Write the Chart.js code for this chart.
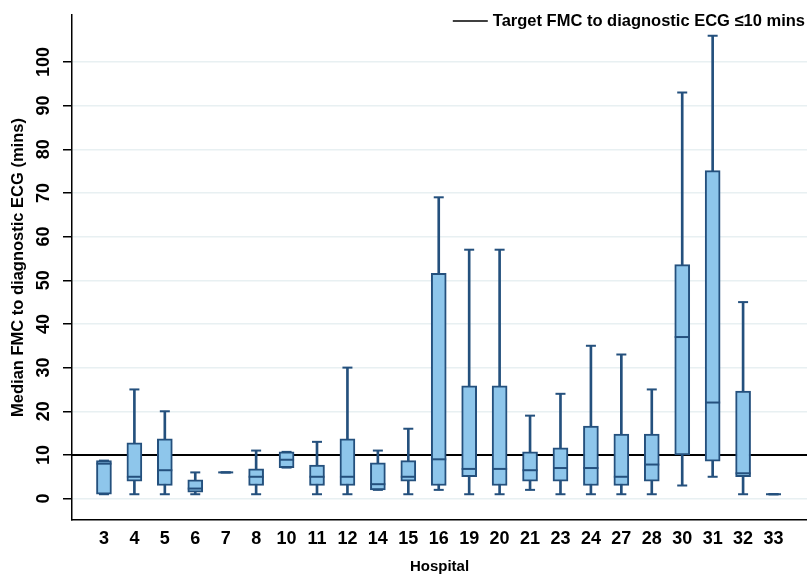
<!DOCTYPE html>
<html>
<head>
<meta charset="utf-8">
<script src="https://cdn.jsdelivr.net/npm/chart.js@4.4.1/dist/chart.umd.min.js"></script>
<style>
  html, body { margin: 0; padding: 0; background: #fff; }
  #wrap { width: 807px; height: 584px; }
</style>
</head>
<body>
<div id="wrap"><canvas id="boxChart"></canvas></div>
<script>
const hospitals = ['3', '4', '5', '6', '7', '8', '10', '11', '12', '14', '15', '16', '19', '20', '21', '23', '24', '27', '28', '30', '31', '32', '33']
const whiskerLow = [1, 1, 1, 1, 6, 1, 7.1, 1, 1, 2, 1, 2, 1, 1, 2, 1, 1, 1, 1, 3, 5, 1, 1]
const q1 = [1, 4, 3, 1.5, 6, 3, 7.1, 3, 3, 2, 4, 3, 5, 3, 4, 4, 3, 3, 4, 10, 8.6, 5, 1]
const median = [8, 5, 6.5, 2.3, 6, 5, 8.9, 5, 5, 3.3, 5, 9, 6.8, 6.8, 6.5, 7, 7, 5, 7.8, 37, 22, 5.8, 1]
const q3 = [8.7, 12.8, 13.7, 4.3, 6, 6.8, 10.7, 7.7, 13.7, 8.2, 8.7, 51.6, 25.8, 25.8, 10.7, 11.6, 16.6, 14.8, 14.8, 53.6, 75.1, 24.6, 1]
const whiskerHigh = [8.7, 25, 20, 6, 6, 11, 10.7, 13, 30, 11, 16, 69, 57, 57, 19, 24, 35, 33, 25, 93, 106, 45, 1]
const yTicks = [0, 10, 20, 30, 40, 50, 60, 70, 80, 90, 100]
const targetValue = 10
const targetLabel = 'Target FMC to diagnostic ECG \u226410 mins'

const boxFill = 'rgb(142, 198, 235)'
const boxLine = 'rgb(36, 80, 125)'
const fontFamily = 'Liberation Sans, Arial, sans-serif'
const bold = size => ({ family: fontFamily, weight: 'bold', size })

const xMin = -1.05
const xMax = 23.1

// legend sits over the top right of the plot, like the original
const targetLegend = {
  id: 'targetLegend',
  afterDraw(chart) {
    const c = chart.ctx
    c.save()
    c.font = 'bold 16.5px ' + fontFamily
    const w = c.measureText(targetLabel).width
    const textX = chart.width - 2 - w
    c.fillStyle = '#000'
    c.textBaseline = 'middle'
    c.fillText(targetLabel, textX, 21)
    c.strokeStyle = '#000'
    c.lineWidth = 1.5
    c.beginPath()
    c.moveTo(textX - 40, 21)
    c.lineTo(textX - 5, 21)
    c.stroke()
    c.restore()
  }
}

const ctx = document.getElementById('boxChart').getContext('2d')
const chart = new Chart(ctx, {
  type: 'bar',
  data: {
    datasets: [
      {
        type: 'line',
        label: targetLabel,
        data: [{ x: xMin, y: targetValue }, { x: xMax, y: targetValue }],
        borderColor: '#000',
        borderWidth: 2,
        pointRadius: 0,
        order: 10
      },
      {
        label: 'whiskers',
        data: hospitals.map((h, i) => ({ x: i, y: [whiskerLow[i], whiskerHigh[i]] })),
        backgroundColor: boxLine,
        borderWidth: 0,
        barThickness: 2,
        grouped: false,
        order: 5
      },
      {
        label: 'boxes',
        data: hospitals.map((h, i) => ({ x: i, y: [q1[i], q3[i]] })),
        backgroundColor: boxFill,
        borderColor: boxLine,
        borderWidth: 2,
        borderSkipped: false,
        barThickness: 15,
        grouped: false,
        order: 2
      },
      {
        type: 'line',
        label: 'caps',
        data: hospitals.flatMap((h, i) => [{ x: i, y: whiskerLow[i] }, { x: i, y: whiskerHigh[i] }]),
        showLine: false,
        pointStyle: 'line',
        pointRadius: 5,
        pointBorderWidth: 2,
        pointBorderColor: boxLine,
        order: 1
      },
      {
        type: 'line',
        label: 'median',
        data: hospitals.map((h, i) => ({ x: i, y: median[i] })),
        showLine: false,
        pointStyle: 'line',
        pointRadius: 7.5,
        pointBorderWidth: 2,
        pointBorderColor: boxLine,
        order: 0
      }
    ]
  },
  plugins: [targetLegend],
  options: {
    responsive: true,
    maintainAspectRatio: false,
    animation: false,
    layout: { autoPadding: false, padding: { top: 15, right: 0, bottom: 0, left: 0 } },
    plugins: {
      tooltip: { enabled: false },
      legend: { display: false }
    },
    scales: {
      x: {
        type: 'linear',
        offset: false,
        min: xMin,
        max: xMax,
        afterBuildTicks: s => { s.ticks = hospitals.map((h, i) => ({ value: i })) },
        afterFit: s => { s.height = 64 },
        ticks: {
          autoSkip: false,
          maxRotation: 0,
          padding: 8,
          color: '#000',
          font: bold(18),
          callback: v => hospitals[v]
        },
        grid: { display: false, drawTicks: false, offset: false },
        border: { color: '#000', width: 1.5 },
        title: {
          display: true,
          text: 'Hospital',
          color: '#000',
          font: bold(15),
          padding: { top: 0, bottom: 8 }
        }
      },
      y: {
        min: -4.9,
        max: 110.75,
        afterBuildTicks: s => { s.ticks = yTicks.map(v => ({ value: v })) },
        afterFit: s => { s.width = 72 },
        ticks: {
          minRotation: 90,
          maxRotation: 90,
          crossAlign: 'center',
          padding: 4,
          color: '#000',
          font: bold(18)
        },
        grid: {
          color: 'rgb(232, 240, 242)',
          lineWidth: 1.5,
          tickLength: 9,
          tickColor: '#000',
          tickWidth: 1.5
        },
        border: { color: '#000', width: 1.5 },
        title: {
          display: true,
          text: 'Median FMC to diagnostic ECG (mins)',
          color: '#000',
          font: bold(16.5),
          padding: { top: 9, bottom: 0 }
        }
      }
    }
  }
})
</script>
</body>
</html>
